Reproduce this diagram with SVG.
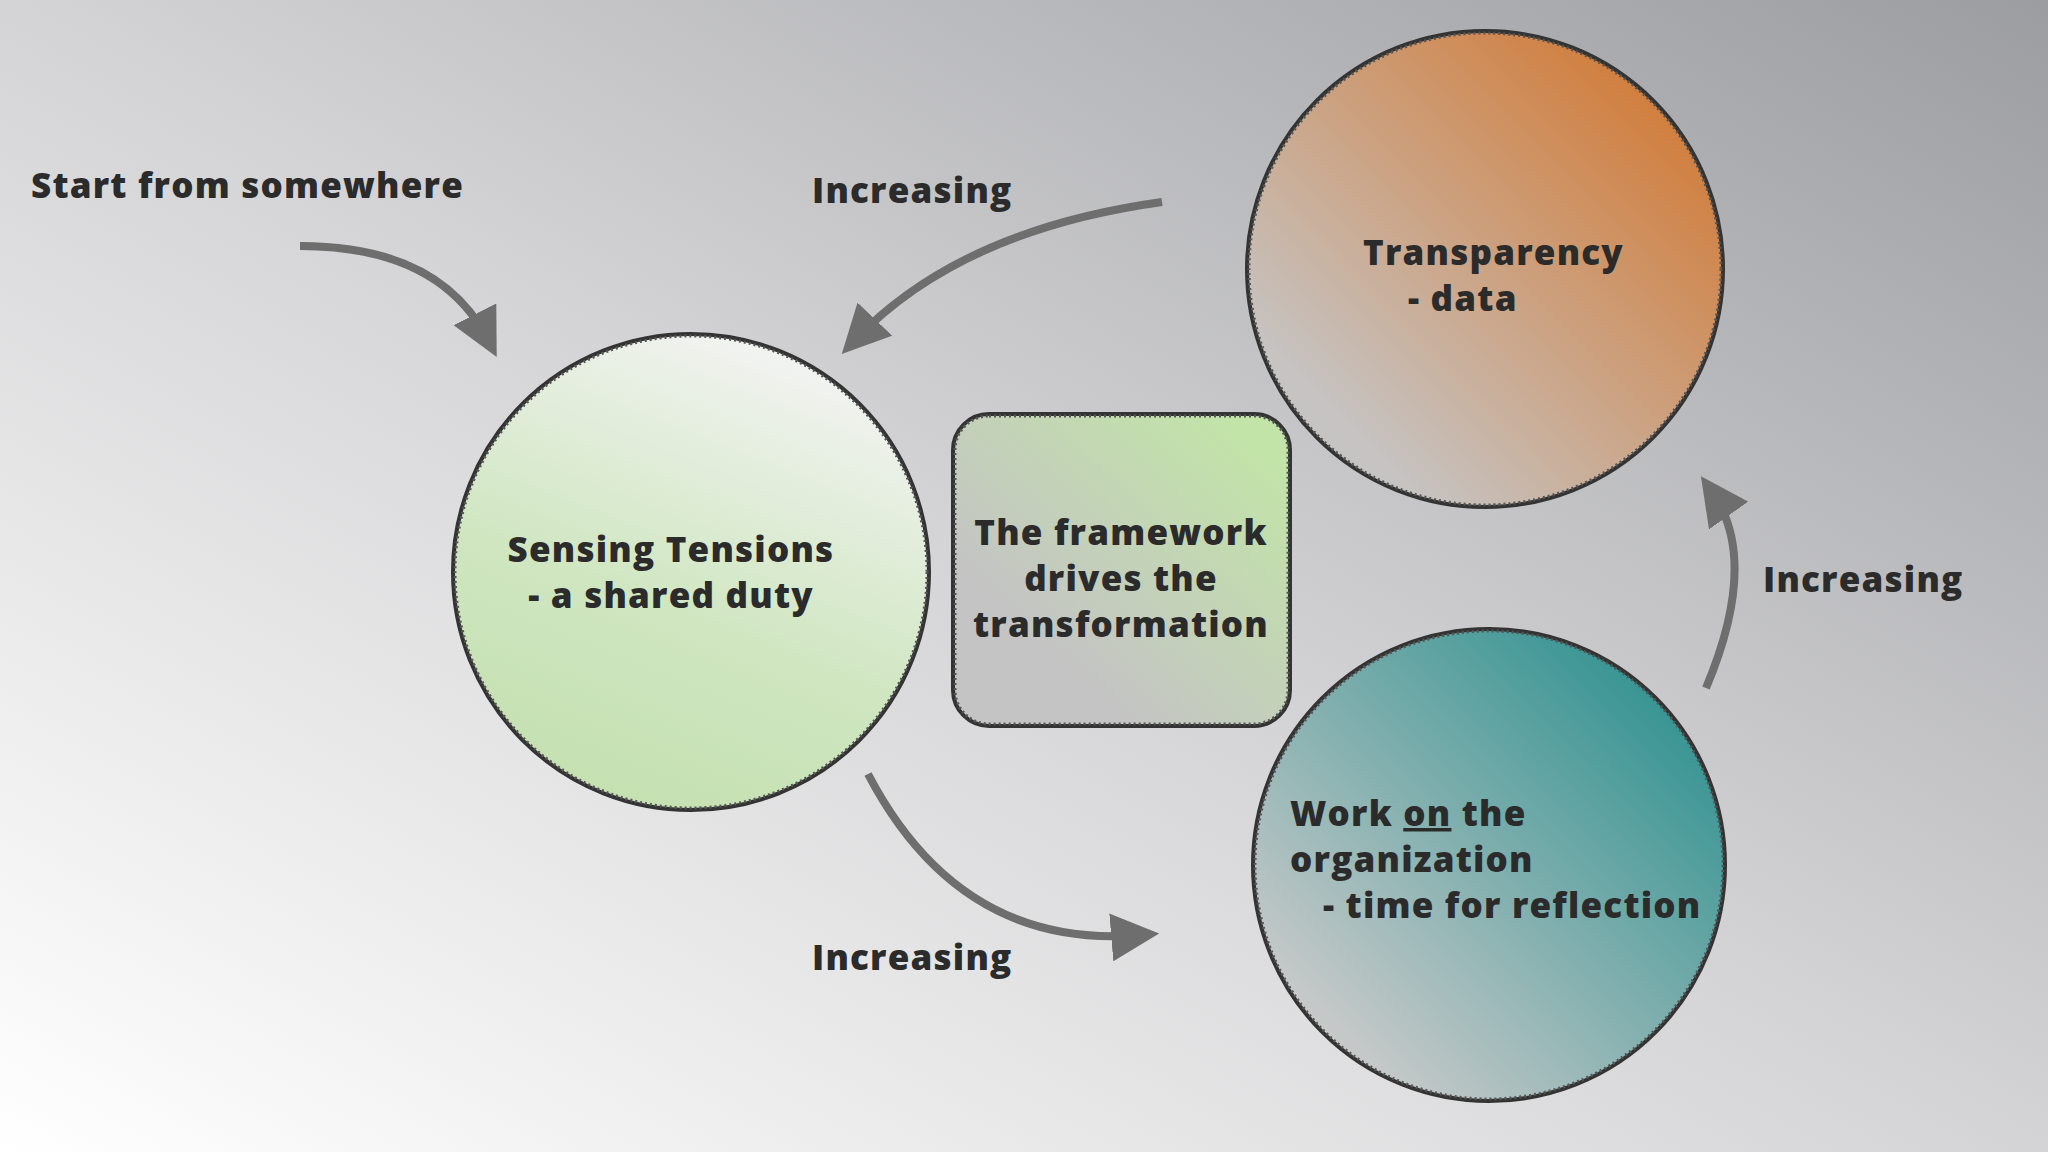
<svg xmlns="http://www.w3.org/2000/svg" width="2048" height="1152" viewBox="0 0 2048 1152">
<defs>
<linearGradient id="bg" x1="0" y1="1" x2="1" y2="0"><stop offset="0" stop-color="#ffffff"/><stop offset="0.5" stop-color="#d4d4d6"/><stop offset="1" stop-color="#9c9da1"/></linearGradient>
<linearGradient id="gG" x1="0.7" y1="0" x2="0.3" y2="1"><stop offset="0" stop-color="#f4f4f4"/><stop offset="0.6" stop-color="#cfe6c0"/><stop offset="1" stop-color="#c4e0b0"/></linearGradient>
<linearGradient id="gO" x1="0.1" y1="0.9" x2="0.9" y2="0.1"><stop offset="0.1" stop-color="#c6c4c3"/><stop offset="1" stop-color="#d27a35"/></linearGradient>
<linearGradient id="gT" x1="0.1" y1="0.9" x2="0.9" y2="0.1"><stop offset="0.05" stop-color="#cacaca"/><stop offset="1" stop-color="#2f9290"/></linearGradient>
<linearGradient id="gB" x1="0.1" y1="0.9" x2="0.9" y2="0.1"><stop offset="0.2" stop-color="#c4c4c4"/><stop offset="1" stop-color="#c2e4a8"/></linearGradient>
<marker id="ah" viewBox="0 0 10 10" refX="6" refY="5" markerWidth="6" markerHeight="6" orient="auto" markerUnits="strokeWidth"><path d="M0,0 L10,5 L0,10 z" fill="#6e6e6e"/></marker>
<style>
.sh{stroke:#333;stroke-width:4}
.tx{stroke:#555;stroke-width:3;stroke-dasharray:2 3;fill:none}
text{font-family:"Open Sans","Liberation Sans",sans-serif;font-weight:800;font-size:35px;letter-spacing:1.2px;fill:#2b2b2b}
.c{stroke:#6e6e6e;stroke-width:8;fill:none;marker-end:url(#ah)}
</style>
</defs>
<rect width="2048" height="1152" fill="url(#bg)"/>
<g id="connectors">
<path class="c" d="M300,246 Q440,246 488,340"/>
<path class="c" d="M1162,202 Q960,230 855,340"/>
<path class="c" d="M868,774 Q960,950 1140,935"/>
<path class="c" d="M1706,688 Q1760,560 1712,492"/>
</g>
<g id="sensing"><circle cx="691" cy="572" r="238" fill="url(#gG)" class="sh"/><circle cx="691" cy="572" r="236" class="tx"/>
<text x="671" y="562" text-anchor="middle">Sensing Tensions</text><text x="671" y="608" text-anchor="middle">- a shared duty</text></g>
<g id="transparency"><circle cx="1485" cy="269" r="238" fill="url(#gO)" class="sh"/><circle cx="1485" cy="269" r="236" class="tx"/>
<text x="1363" y="265">Transparency</text><text x="1408" y="311">- data</text></g>
<g id="work"><circle cx="1489" cy="865" r="236" fill="url(#gT)" class="sh"/><circle cx="1489" cy="865" r="234" class="tx"/>
<text x="1290" y="826">Work <tspan text-decoration="underline">on</tspan> the</text><text x="1290" y="872">organization</text><text x="1323" y="918">- time for reflection</text></g>
<g id="framework"><rect x="953" y="414" width="337" height="312" rx="36" fill="url(#gB)" class="sh"/><rect x="955" y="416" width="333" height="308" rx="34" class="tx"/>
<text x="1121" y="545" text-anchor="middle">The framework</text><text x="1121" y="591" text-anchor="middle">drives the</text><text x="1121" y="637" text-anchor="middle">transformation</text></g>
<g id="labels">
<text x="31" y="198">Start from somewhere</text>
<text x="812" y="203">Increasing</text>
<text x="812" y="970">Increasing</text>
<text x="1763" y="592">Increasing</text>
</g>
</svg>
